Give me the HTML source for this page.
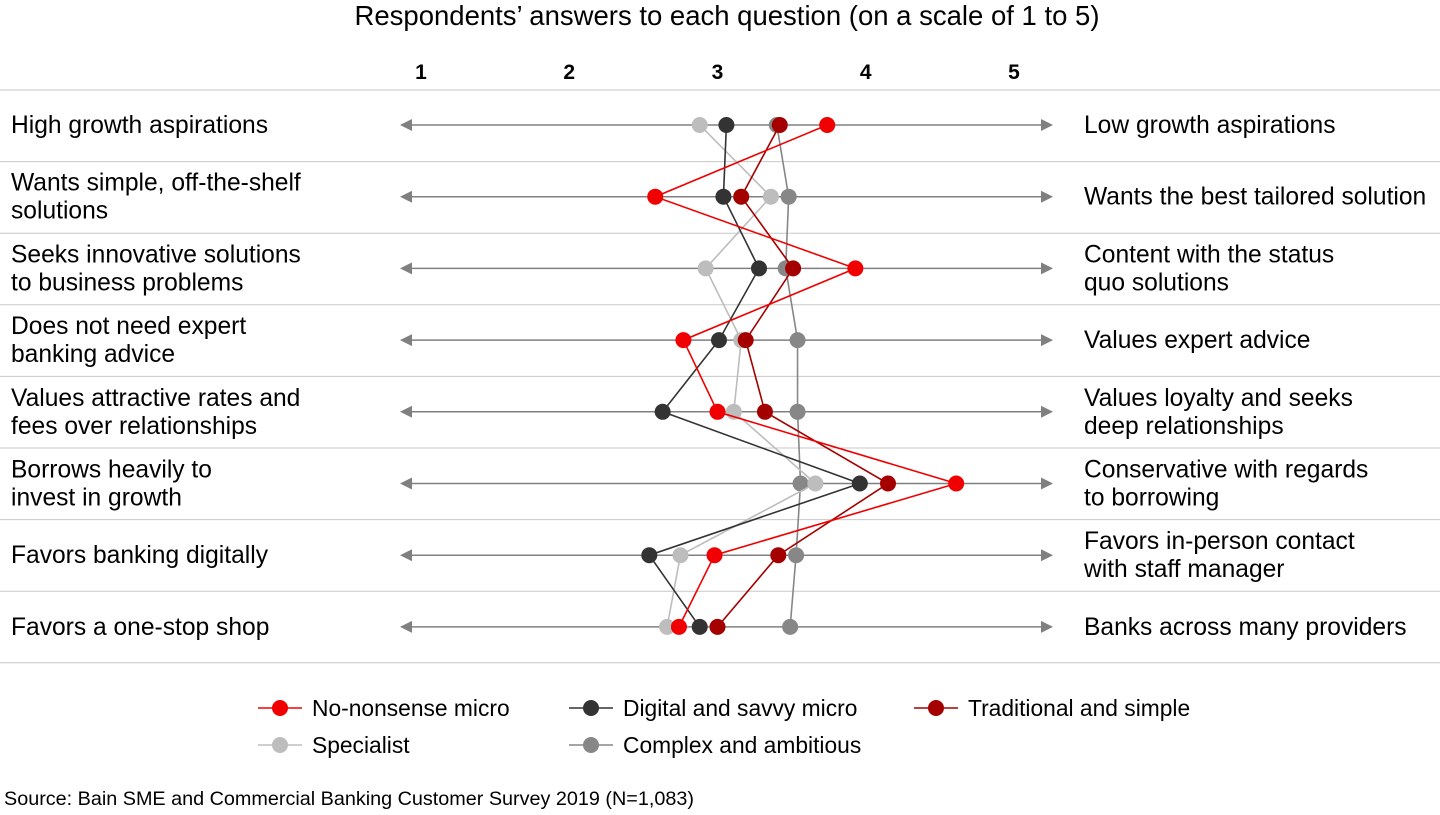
<!DOCTYPE html>
<html><head><meta charset="utf-8"><style>
body{margin:0;background:#fff;font-family:"Liberation Sans",Arial,sans-serif;}
svg text{font-family:"Liberation Sans",Arial,sans-serif;}
</style></head><body>
<svg id="chart" width="1440" height="810" viewBox="0 0 1440 810">
<text x="727" y="25" font-size="27.5" text-anchor="middle" fill="#000">Respondents’ answers to each question (on a scale of 1 to 5)</text>
<g id="ticks"></g><g id="rows"></g><g id="series"></g><g id="legend"></g>
<text x="4" y="805" font-size="19.8" fill="#000">Source: Bain SME and Commercial Banking Customer Survey 2019 (N=1,083)</text>
</svg>
<script>
const tickValues=[1,2,3,4,5];
const leftLabels=[["High growth aspirations"],["Wants simple, off-the-shelf","solutions"],["Seeks innovative solutions","to business problems"],["Does not need expert","banking advice"],["Values attractive rates and","fees over relationships"],["Borrows heavily to","invest in growth"],["Favors banking digitally"],["Favors a one-stop shop"]];
const rightLabels=[["Low growth aspirations"],["Wants the best tailored solution"],["Content with the status","quo solutions"],["Values expert advice"],["Values loyalty and seeks","deep relationships"],["Conservative with regards","to borrowing"],["Favors in-person contact","with staff manager"],["Banks across many providers"]];
const seriesNames=["Complex and ambitious","Specialist","Digital and savvy micro","Traditional and simple","No-nonsense micro"];
const complexVals=[3.40,3.48,3.46,3.54,3.54,3.56,3.53,3.49];
const specialistVals=[2.88,3.36,2.92,3.16,3.11,3.66,2.75,2.66];
const digitalVals=[3.06,3.04,3.28,3.01,2.63,3.96,2.54,2.88];
const traditionalVals=[3.42,3.16,3.51,3.19,3.32,4.15,3.41,3.00];
const nononsenseVals=[3.74,2.58,3.93,2.77,3.00,4.61,2.98,2.74];
const seriesColors=["#878787","#bdbdbd","#333333","#a50000","#f00000"];
const NS="http://www.w3.org/2000/svg";
function xS(v){return 421+(v-1)*148.25;}
function yS(i){return 125+i*71.7;}
function mk(tag,attrs,parent){const e=document.createElementNS(NS,tag);for(const k in attrs)e.setAttribute(k,attrs[k]);parent.appendChild(e);return e;}
const tg=document.getElementById('ticks');
tickValues.forEach(v=>{const t=mk('text',{x:xS(v),y:79,'font-size':21,'font-weight':'bold','text-anchor':'middle'},tg);t.textContent=v;

});
const rg=document.getElementById('rows');
for(let i=0;i<=8;i++){const l=mk('line',{x1:0,x2:1440,y1:90+i*71.6,y2:90+i*71.6,stroke:'#c8c8c8','stroke-width':1},rg);

}
leftLabels.forEach((lab,i)=>{const y=yS(i);
const a=mk('g',{},rg);


mk('line',{x1:410,x2:1043,y1:y,y2:y,stroke:'#808080','stroke-width':1.5},a);
mk('polygon',{points:`400,${y} 412,${y-6} 412,${y+6}`,fill:'#808080'},a);
mk('polygon',{points:`1053,${y} 1041,${y-6} 1041,${y+6}`,fill:'#808080'},a);
[[lab,11],[rightLabels[i],1084]].forEach(([ls,x])=>{const t=mk('text',{x:x,'font-size':24.6,fill:'#000'},rg);


const y0=ls.length==1?y+8:y-6;
ls.forEach((s,j)=>{const ts=mk('tspan',{x:x,y:y0+j*28},t);ts.textContent=s;});});
});
const sg=document.getElementById('series');
const allVals=[complexVals,specialistVals,digitalVals,traditionalVals,nononsenseVals];
allVals.forEach((vals,s)=>{const g=mk('g',{},sg);


mk('polyline',{points:vals.map((v,i)=>xS(v)+','+yS(i)).join(' '),fill:'none',stroke:seriesColors[s],'stroke-width':1.6},g);
vals.forEach((v,i)=>{const c=mk('circle',{cx:xS(v),cy:yS(i),r:8,fill:seriesColors[s]},g);

});});
const lg=document.getElementById('legend');
const legendItems=[[4,258,708],[2,569,708],[3,914,708],[1,258,745],[0,569,745]];
legendItems.forEach(([s,x,y])=>{const g=mk('g',{},lg);


mk('line',{x1:x,x2:x+44,y1:y,y2:y,stroke:seriesColors[s],'stroke-width':1.6},g);
mk('circle',{cx:x+22,cy:y,r:8,fill:seriesColors[s]},g);
const t=mk('text',{x:x+54,y:y+8,'font-size':22.8},g);t.textContent=seriesNames[s];});
</script>
</body></html>
